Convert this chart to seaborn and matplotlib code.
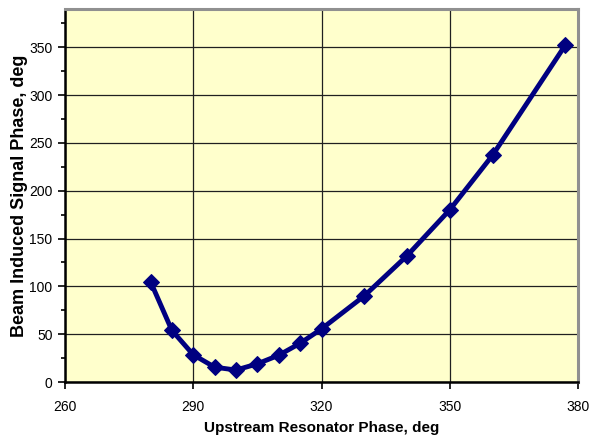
import matplotlib
matplotlib.use("Agg")
import matplotlib.pyplot as plt
import seaborn as sns
import pandas as pd
from matplotlib.ticker import MultipleLocator

# Data
upstream_phase = [280, 285, 290, 295, 300, 305, 310, 315, 320, 330, 340, 350, 360, 377]
signal_phase = [105, 54, 28.5, 15.5, 12.5, 19, 28, 40.5, 55.5, 90, 132, 180, 237, 352]
x_ticks = [260, 290, 320, 350, 380]
y_ticks = [0, 50, 100, 150, 200, 250, 300, 350]

df = pd.DataFrame({"x": upstream_phase, "y": signal_phase})

sns.set_style("white")
plt.rcParams["font.family"] = ["Liberation Sans", "DejaVu Sans"]
plt.rcParams["text.color"] = "black"
plt.rcParams["axes.labelcolor"] = "black"
plt.rcParams["xtick.color"] = "black"
plt.rcParams["ytick.color"] = "black"

fig = plt.figure(figsize=(5.89, 4.37), dpi=100)
ax = fig.add_axes([65/589, 1 - 382/437, (578 - 65)/589, (382 - 9)/437])
ax.set_facecolor("#FFFFCC")

sns.lineplot(data=df, x="x", y="y", ax=ax, color="#000080", linewidth=3.5,
             marker="D", markersize=8, markeredgecolor="#000080", zorder=5)

ax.set_xlim(260, 380)
ax.set_ylim(0, 390)
ax.set_xticks(x_ticks)
ax.set_yticks(y_ticks)
ax.yaxis.set_minor_locator(MultipleLocator(25))
ax.grid(True, which="major", color="#202020", linewidth=0.9)
ax.set_axisbelow(True)

ax.tick_params(axis="both", which="major", direction="out", length=5, width=1.2,
               color="black", labelcolor="black", labelsize=10, left=True, bottom=True)
ax.tick_params(axis="x", which="major", pad=8)
ax.tick_params(axis="y", which="major", pad=4)
ax.tick_params(axis="y", which="minor", direction="out", length=3, width=1.2,
               color="black", left=True)

for side in ["left", "bottom"]:
    ax.spines[side].set_color("black")
    ax.spines[side].set_linewidth(1.8)
for side in ["top", "right"]:
    ax.spines[side].set_visible(True)
    ax.spines[side].set_color("#909090")
    ax.spines[side].set_linewidth(2.2)

ax.set_xlabel("Upstream Resonator Phase, deg", fontsize=11, fontweight="bold",
              labelpad=5, color="black")
ax.set_ylabel("Beam Induced Signal Phase, deg", fontsize=13, fontweight="bold",
              color="black")
ax.yaxis.set_label_coords((28 - 65) / 513, 0.5)

fig.savefig("out.png", dpi=100)
